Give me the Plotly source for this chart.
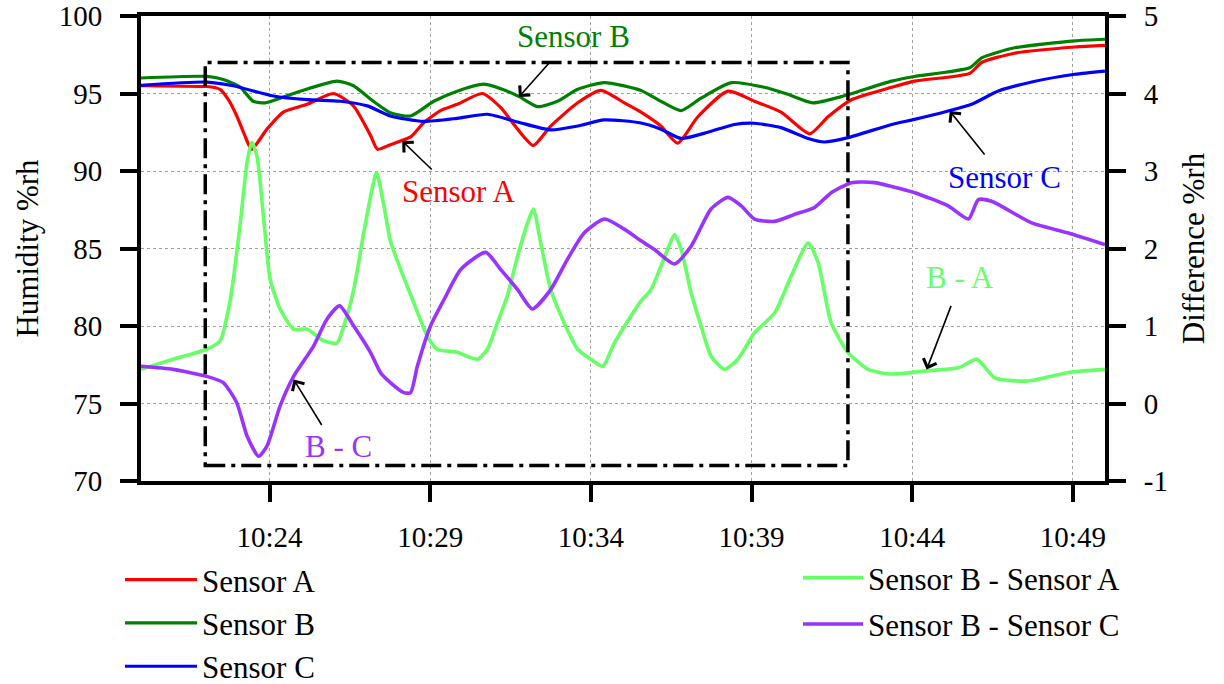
import pandas as pd
import plotly.graph_objects as go

# ---- data (time in minutes after 10:20) ----
A_t = [0, 1.84, 2.05, 2.46, 2.72, 2.98, 3.19, 3.35, 3.45, 3.92, 4.43, 5.17, 5.99, 6.61, 7.14, 7.36,
       7.76, 8.39, 8.79, 9.32, 9.84, 10.62, 11.19, 11.72, 12.21, 12.75, 13.59, 14.31, 15.04, 15.56,
       16.18, 16.70, 17.33, 18.27, 19.09, 19.92, 20.81, 21.38, 22.11, 23.36, 24.07, 25.79, 26.16,
       27.19, 29.06, 30.0]
A_v = [95.5, 95.45, 95.45, 95.27, 94.6, 93.55, 92.5, 91.7, 91.4, 92.7, 93.8, 94.3, 95.0, 94.2, 92.3,
       91.4, 91.7, 92.2, 93.1, 93.9, 94.3, 95.0, 94.1, 92.7, 91.65, 92.9, 94.4, 95.2, 94.4, 93.8,
       92.9, 91.8, 93.5, 95.15, 94.5, 93.8, 92.4, 93.5, 94.6, 95.4, 95.8, 96.3, 97.0, 97.6, 98.0, 98.1]

B_t = [0, 2.05, 2.56, 3.09, 3.49, 3.87, 4.33, 4.96, 6.10, 6.61, 7.23, 7.76, 8.39, 9.11, 9.84, 10.67,
       11.40, 11.77, 12.34, 12.96, 13.59, 14.42, 15.56, 16.18, 16.81, 17.43, 18.37, 19.40, 20.13,
       20.91, 21.79, 23.36, 24.07, 25.79, 26.16, 27.19, 29.06, 30.0]
B_v = [96.0, 96.1, 95.9, 95.4, 94.5, 94.4, 94.7, 95.15, 95.8, 95.5, 94.5, 93.76, 93.55, 94.5, 95.15,
       95.6, 95.15, 94.8, 94.15, 94.5, 95.27, 95.7, 95.2, 94.5, 93.9, 94.7, 95.7, 95.4, 94.95, 94.4,
       94.8, 95.8, 96.1, 96.66, 97.3, 97.95, 98.4, 98.5]

C_t = [0, 2.05, 2.87, 4.12, 5.17, 6.21, 7.04, 7.76, 8.79, 9.84, 10.78, 11.72, 12.75, 13.59, 14.42,
       15.56, 16.18, 16.81, 17.64, 18.47, 19.09, 19.92, 20.76, 21.27, 22.0, 23.36, 24.07, 25.12,
       25.85, 26.68, 27.72, 29.06, 30.0]
C_v = [95.53, 95.74, 95.5, 94.84, 94.6, 94.5, 94.2, 93.55, 93.2, 93.4, 93.66, 93.16, 92.65, 92.9,
       93.3, 93.1, 92.7, 92.1, 92.5, 93.0, 93.08, 92.8, 92.1, 91.87, 92.15, 93.0, 93.33, 93.87, 94.3,
       95.16, 95.74, 96.24, 96.45]

BA_t = [0, 1.0, 2.05, 2.46, 2.78, 3.09, 3.30, 3.45, 3.61, 3.81, 4.02, 4.33, 4.75, 5.17, 5.68, 6.10,
        6.31, 6.62, 6.93, 7.19, 7.33, 7.56, 7.76, 8.08, 8.49, 8.91, 9.22, 9.84, 10.47, 10.78, 11.09,
        11.40, 11.72, 12.03, 12.21, 12.44, 12.75, 13.17, 13.59, 14.0, 14.37, 14.73, 15.25, 15.56,
        15.87, 16.18, 16.39, 16.60, 16.81, 17.12, 17.43, 17.74, 18.16, 18.57, 19.09, 19.72, 20.24,
        20.76, 21.07, 21.48, 22.0, 22.63, 23.36, 24.39, 25.44, 26.01, 26.58, 27.62, 28.86, 30.0]
BA_v = [0.44, 0.57, 0.70, 0.81, 1.34, 2.33, 3.11, 3.37, 3.19, 2.42, 1.60, 1.22, 0.96, 0.96, 0.81,
        0.78, 1.0, 1.47, 2.20, 2.76, 2.98, 2.55, 2.1, 1.73, 1.30, 0.87, 0.70, 0.66, 0.57, 0.70, 1.04,
        1.39, 1.90, 2.33, 2.51, 2.07, 1.47, 1.04, 0.70, 0.57, 0.48, 0.78, 1.13, 1.32, 1.47, 1.77,
        1.99, 2.18, 1.99, 1.43, 1.0, 0.61, 0.44, 0.57, 0.91, 1.17, 1.65, 2.07, 1.82, 1.04, 0.66,
        0.44, 0.38, 0.42, 0.46, 0.57, 0.33, 0.29, 0.40, 0.44]

BC_t = [0, 1.0, 2.05, 2.56, 2.98, 3.30, 3.66, 3.92, 4.33, 4.75, 5.37, 5.79, 6.18, 6.62, 7.14, 7.45,
        7.76, 8.18, 8.39, 8.60, 9.01, 9.43, 9.95, 10.73, 11.19, 11.72, 12.18, 12.75, 13.27, 13.79,
        14.42, 15.04, 15.56, 15.97, 16.60, 17.12, 17.74, 18.27, 18.68, 19.09, 19.72, 20.34, 20.96,
        21.48, 22.11, 22.83, 23.36, 24.08, 25.12, 25.75, 26.06, 26.47, 27.72, 28.86, 30.0]
BC_v = [0.48, 0.44, 0.35, 0.27, 0.01, -0.42, -0.68, -0.55, -0.03, 0.35, 0.74, 1.09, 1.26, 1.0, 0.66,
        0.40, 0.27, 0.14, 0.14, 0.48, 1.0, 1.34, 1.73, 1.95, 1.73, 1.47, 1.22, 1.47, 1.86, 2.20,
        2.38, 2.25, 2.10, 1.99, 1.80, 2.03, 2.51, 2.66, 2.55, 2.38, 2.35, 2.44, 2.53, 2.72, 2.85,
        2.85, 2.80, 2.72, 2.55, 2.38, 2.63, 2.61, 2.33, 2.20, 2.05]

TICK_MIN = [4, 9, 14, 19, 24, 29]
TICK_LABELS = ["10:24", "10:29", "10:34", "10:39", "10:44", "10:49"]
Y1_TICKS = [70, 75, 80, 85, 90, 95, 100]
Y2_TICKS = [-1, 0, 1, 2, 3, 4, 5]
Y2_LABELS = ["-1", "0", "1", "2", "3", "4", "5"]

BOX_T = [2, 22]          # dash-dot box, minutes
BOX_H = [71, 97]         # dash-dot box, humidity

FONT = "Liberation Serif, 'Times New Roman', Times, serif"
base = pd.Timestamp("2000-01-01 10:20:00")

# plot area in pixels (for converting legend positions)
PL, PR, PT, PB = 141, 1105, 16, 481


def tt(mins):
    return [base + pd.Timedelta(minutes=m) for m in mins]


def px_x(p):
    return (p - PL) / (PR - PL)


def px_y(p):
    return (PB - p) / (PB - PT)


fig = go.Figure()
series = [
    ("Sensor A", A_t, A_v, "#ff0000", "y", "legend", 3.2),
    ("Sensor B", B_t, B_v, "#008000", "y", "legend", 3.2),
    ("Sensor C", C_t, C_v, "#0000ff", "y", "legend", 3.2),
    ("Sensor B - Sensor A", BA_t, BA_v, "#66ff66", "y2", "legend2", 3.6),
    ("Sensor B - Sensor C", BC_t, BC_v, "#9933ff", "y2", "legend2", 3.6),
]
for name, t, v, col, ax, leg, w in series:
    fig.add_trace(go.Scatter(x=tt(t), y=v, name=name, mode="lines", yaxis=ax, legend=leg,
                             line=dict(color=col, width=w, shape="spline", smoothing=0.6),
                             legendgroup=name))

fig.add_shape(type="rect", xref="x", yref="y",
              x0=tt([BOX_T[0]])[0], x1=tt([BOX_T[1]])[0], y0=BOX_H[0], y1=BOX_H[1],
              line=dict(color="black", width=3.5, dash="20px,6px,4px,6px"))

# text labels
labels = [
    ("Sensor B", 13.47, 98.65, "y", "#008000"),
    ("Sensor A", 9.88, 88.65, "y", "#ff0000"),
    ("Sensor C", 26.88, 89.55, "y", "#0000ff"),
    ("B - A", 25.48, 1.62, "y2", "#66ff66"),
    ("B - C", 6.14, -0.55, "y2", "#9933ff"),
]
for txt, t, v, ax, col in labels:
    fig.add_annotation(x=tt([t])[0], y=v, yref=ax, text=txt, showarrow=False,
                       font=dict(family=FONT, size=31, color=col))

# arrows (tip in data coords, tail offset in pixels)
arrows = [
    (11.76, 94.77, "y", 32, -36),
    (8.13, 91.94, "y", 31, 30),
    (25.17, 93.87, "y", 36, 45),
    (24.45, 0.44, "y2", 25, -65),
    (4.75, 0.31, "y2", 29, 47),
]
for t, v, ax, dx, dy in arrows:
    fig.add_annotation(x=tt([t])[0], y=v, yref=ax, text="", showarrow=True,
                       ax=dx, ay=dy, arrowhead=4, arrowsize=1.7, arrowwidth=1.6,
                       arrowcolor="black")

axis_common = dict(showline=True, linecolor="black", linewidth=4, ticks="outside",
                   ticklen=17, tickwidth=4, tickcolor="black", zeroline=False,
                   automargin=False,
                   tickfont=dict(family=FONT, size=29, color="black"))

fig.update_layout(
    width=1224, height=684,
    margin=dict(l=PL, r=1224 - PR, t=PT, b=684 - PB, autoexpand=False),
    paper_bgcolor="white", plot_bgcolor="white",
    font=dict(family=FONT, size=31, color="black"),
    showlegend=True,
    xaxis=dict(type="date", range=[base, base + pd.Timedelta(minutes=30)],
               tickvals=tt(TICK_MIN), ticktext=TICK_LABELS, mirror=True, tickangle=0,
               showgrid=True, gridcolor="#a0a0a0", griddash="dot", gridwidth=1,
               ticklabelstandoff=10, **axis_common),
    yaxis=dict(range=[70, 100], tickvals=Y1_TICKS, mirror=True,
               showgrid=True, gridcolor="#a0a0a0", griddash="dot", gridwidth=1,
               ticklabelstandoff=12,
               title=dict(text="Humidity %rh", font=dict(family=FONT, size=31), standoff=12),
               **axis_common),
    yaxis2=dict(range=[-1, 5], tickvals=Y2_TICKS, ticktext=Y2_LABELS, overlaying="y",
                side="right", showgrid=False, ticklabelstandoff=12,
                title=dict(text="Difference %rh", font=dict(family=FONT, size=31), standoff=16),
                **axis_common),
    legend=dict(x=px_x(120), y=px_y(553), xanchor="left", yanchor="top",
                bgcolor="rgba(0,0,0,0)", font=dict(family=FONT, size=31),
                itemwidth=72, tracegroupgap=0),
    legend2=dict(x=px_x(798), y=px_y(551), xanchor="left", yanchor="top",
                 bgcolor="rgba(0,0,0,0)", font=dict(family=FONT, size=31),
                 itemwidth=60, tracegroupgap=3),
)

fig.write_html("out.html")
